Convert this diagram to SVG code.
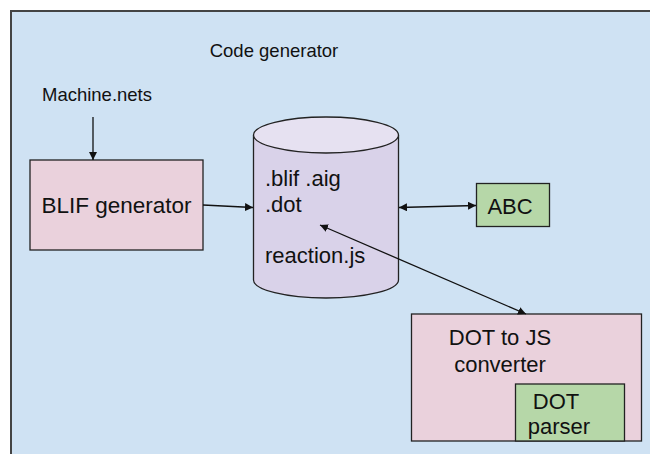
<svg xmlns="http://www.w3.org/2000/svg" width="650" height="454" viewBox="0 0 650 454">
<style>
text{font-family:"Liberation Sans",Arial,sans-serif;fill:#111}
.node{stroke:#222;stroke-width:1.3}
.con{stroke:#111;stroke-width:1.3;fill:none}
</style>
<defs>
<marker id="ah" viewBox="0 0 10 10" refX="10" refY="5" markerWidth="8" markerHeight="8" markerUnits="userSpaceOnUse" orient="auto-start-reverse">
<path d="M0,0 L10,5 L0,10 z" fill="#111"/>
</marker>
</defs>
<g id="frame">
<rect x="11" y="11" width="660" height="460" fill="#cfe2f3" stroke="#444" stroke-width="2"/>
<text x="274" y="57" font-size="18.5" text-anchor="middle">Code generator</text>
</g>
<g id="machine-nets">
<text x="97" y="101" font-size="18.5" text-anchor="middle">Machine.nets</text>
</g>
<g id="blif-generator">
<rect class="node" x="30" y="160" width="173" height="90" fill="#ead1dc"/>
<text x="116.5" y="213" font-size="22.5" text-anchor="middle">BLIF generator</text>
</g>
<g id="store">
<path class="node" d="M253.5,135 L253.5,280 A72.5,18 0 0 0 398.5,280 L398.5,135" fill="#d9d2e9"/>
<ellipse class="node" cx="326" cy="135" rx="72.5" ry="18" fill="#e6e1f1"/>
<text x="265" y="186" font-size="22">.blif .aig</text>
<text x="265" y="211.5" font-size="22">.dot</text>
<text x="265" y="263" font-size="22">reaction.js</text>
</g>
<g id="abc">
<rect class="node" x="476.5" y="183.5" width="73" height="43" fill="#b6d7a8"/>
<text x="510" y="213.5" font-size="22" text-anchor="middle">ABC</text>
</g>
<g id="dot-to-js">
<rect class="node" x="411.5" y="314" width="230" height="127" fill="#ead1dc"/>
<text x="500" y="345" font-size="22" text-anchor="middle">DOT to JS</text>
<text x="500" y="371.5" font-size="22" text-anchor="middle">converter</text>
</g>
<g id="dot-parser">
<rect class="node" x="515.5" y="384" width="109" height="57" fill="#b6d7a8"/>
<text x="556" y="408.5" font-size="22" text-anchor="middle">DOT</text>
<text x="559" y="433.5" font-size="22" text-anchor="middle">parser</text>
</g>
<g id="connectors">
<line class="con" x1="93" y1="117" x2="93" y2="160" marker-end="url(#ah)"/>
<line class="con" x1="203" y1="205" x2="253" y2="207.5" marker-end="url(#ah)"/>
<line class="con" x1="399" y1="207.5" x2="476" y2="205.5" marker-start="url(#ah)" marker-end="url(#ah)"/>
<line class="con" x1="320" y1="225" x2="526" y2="314" marker-start="url(#ah)" marker-end="url(#ah)"/>
</g>
</svg>
